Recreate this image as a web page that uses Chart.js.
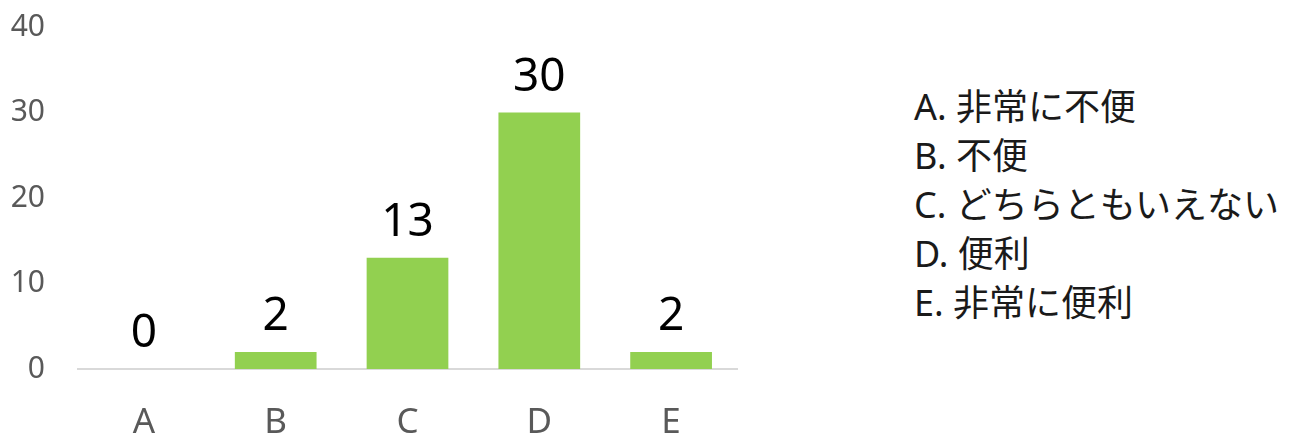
<!DOCTYPE html>
<html>
<head>
<meta charset="utf-8">
<script src="https://cdn.jsdelivr.net/npm/chart.js@4/dist/chart.umd.min.js"></script>
<style>
  html, body { margin: 0; padding: 0; background: #fff; }
  #wrap { position: relative; width: 1297px; height: 440px; overflow: hidden; }
  #box { position: absolute; left: 0; top: -24px; width: 750px; height: 464px; }
  #legendText {
    position: absolute; left: 914px; top: 82px;
    font-family: "Noto Sans", "Noto Sans CJK JP", sans-serif;
    font-size: 36px; line-height: 49px; color: #1a1a1a;
  }
</style>
</head>
<body>
<div id="wrap">
  <div id="box"><canvas id="barChart"></canvas></div>
  <div id="legendText"></div>
</div>
<script>
// categories + values
const categories = ["A", "B", "C", "D", "E"];
const counts = [0, 2, 13, 30, 2];
const answerTexts = ["非常に不便", "不便", "どちらともいえない", "便利", "非常に便利"];
const yTicks = [0, 10, 20, 30, 40];

const FONT = '"Noto Sans", "Noto Sans CJK JP", sans-serif';

document.getElementById("legendText").innerHTML =
  categories.map((c, i) => `<div>${c}. ${answerTexts[i]}</div>`).join("");

// draws the number above each bar
const valueLabels = {
  id: 'valueLabels',
  afterDatasetsDraw(chart) {
    const ctx = chart.ctx;
    const meta = chart.getDatasetMeta(0);
    ctx.save();
    ctx.font = '46px ' + FONT;
    ctx.fillStyle = '#000';
    ctx.textAlign = 'center';
    ctx.textBaseline = 'alphabetic';
    meta.data.forEach((bar, i) => {
      ctx.fillText(String(counts[i]), bar.x, bar.y - 22);
    });
    ctx.restore();
  }
};

const ctx = document.getElementById("barChart").getContext("2d");
const chart = new Chart(ctx, {
  type: 'bar',
  data: {
    labels: categories,
    datasets: [{
      data: counts,
      backgroundColor: '#92d050',
      borderWidth: 0,
      barPercentage: 0.62,
      categoryPercentage: 1
    }]
  },
  options: {
    responsive: true,
    maintainAspectRatio: false,
    animation: false,
    layout: { padding: { top: 0, right: 13, left: 0, bottom: 0 } },
    plugins: {
      legend: { display: false },
      tooltip: { enabled: false }
    },
    scales: {
      y: {
        min: 0,
        max: 40,
        afterBuildTicks: (scale) => { scale.ticks = yTicks.map(v => ({ value: v })); },
        afterFit: (scale) => { scale.width = 78; },
        grid: { display: false, drawTicks: false },
        border: { display: false },
        ticks: {
          color: '#595959',
          padding: 33,
          font: { family: FONT, size: 30 }
        }
      },
      x: {
        afterFit: (scale) => { scale.height = 71; },
        grid: { display: false, drawTicks: false },
        border: { display: true, color: '#d9d9d9', width: 2 },
        ticks: {
          color: '#595959',
          padding: 33,
          font: { family: FONT, size: 35 }
        }
      }
    }
  },
  plugins: [valueLabels]
});
</script>
</body>
</html>
